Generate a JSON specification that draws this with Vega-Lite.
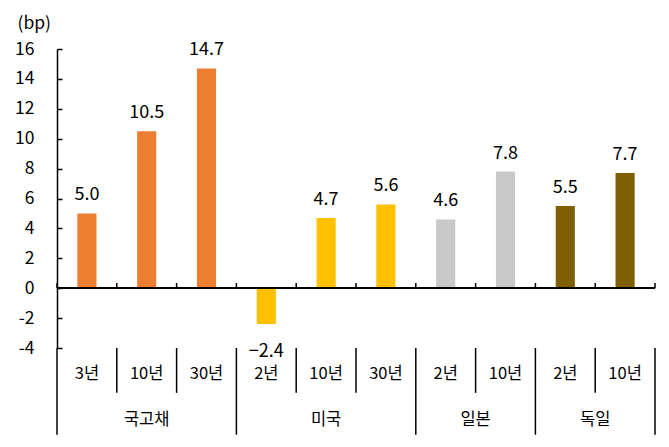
{
  "$schema": "https://vega.github.io/schema/vega-lite/v6.json",
  "width": 598,
  "height": 299,
  "autosize": {"type": "none"},
  "padding": {"left": 57, "top": 49, "right": 14, "bottom": 99},
  "data": {
    "values": [
      {"group": "국고채", "term": "3년", "key": "국고채 3년", "value": 5.0},
      {"group": "국고채", "term": "10년", "key": "국고채 10년", "value": 10.5},
      {"group": "국고채", "term": "30년", "key": "국고채 30년", "value": 14.7},
      {"group": "미국", "term": "2년", "key": "미국 2년", "value": -2.4},
      {"group": "미국", "term": "10년", "key": "미국 10년", "value": 4.7},
      {"group": "미국", "term": "30년", "key": "미국 30년", "value": 5.6},
      {"group": "일본", "term": "2년", "key": "일본 2년", "value": 4.6},
      {"group": "일본", "term": "10년", "key": "일본 10년", "value": 7.8},
      {"group": "독일", "term": "2년", "key": "독일 2년", "value": 5.5},
      {"group": "독일", "term": "10년", "key": "독일 10년", "value": 7.7}
    ]
  },
  "encoding": {
    "x": {
      "field": "key",
      "type": "nominal",
      "sort": null,
      "scale": {"paddingInner": 0, "paddingOuter": 0},
      "axis": {
        "title": null,
        "domain": false,
        "ticks": false,
        "labelAngle": 0,
        "labelPadding": 17,
        "labelFontSize": 16.5,
        "labelExpr": "split(datum.label, ' ')[1]"
      }
    }
  },
  "layer": [
    {
      "mark": {"type": "bar", "width": {"band": 0.32}},
      "encoding": {
        "y": {
          "field": "value",
          "type": "quantitative",
          "scale": {"domain": [-4, 16], "nice": false},
          "axis": {
            "title": "(bp)",
            "titleAngle": 0,
            "titleAlign": "left",
            "titleBaseline": "alphabetic",
            "titleFontSize": 17.5,
            "titleFontWeight": "normal",
            "titleX": -40,
            "titleY": -21
          }
        },
        "color": {
          "field": "group",
          "type": "nominal",
          "scale": {
            "domain": ["국고채", "미국", "일본", "독일"],
            "range": ["#ED7D31", "#FFC000", "#C9C9C9", "#7F6000"]
          },
          "legend": null
        }
      }
    },
    {
      "transform": [{"filter": "datum.value >= 0"}],
      "mark": {"type": "text", "fontSize": 18, "baseline": "alphabetic", "dy": -13},
      "encoding": {
        "y": {"field": "value", "type": "quantitative"},
        "text": {"field": "value", "type": "quantitative", "format": ".1f"}
      }
    },
    {
      "transform": [{"filter": "datum.value < 0"}],
      "mark": {"type": "text", "fontSize": 18, "baseline": "middle", "dy": 28},
      "encoding": {
        "y": {"field": "value", "type": "quantitative"},
        "text": {"field": "value", "type": "quantitative", "format": ".1f"}
      }
    },
    {
      "mark": {"type": "rule", "color": "black", "strokeWidth": 1.5},
      "encoding": {"x": null, "y": {"datum": 0}}
    },
    {
      "mark": {"type": "rule", "color": "black", "strokeWidth": 1.5},
      "encoding": {
        "x": {"field": "key", "type": "nominal", "sort": null, "bandPosition": 0},
        "y": {"datum": 0},
        "y2": {"datum": 0.35}
      }
    },
    {
      "transform": [{"filter": "datum.key == '독일 10년'"}],
      "mark": {"type": "rule", "color": "black", "strokeWidth": 1.5},
      "encoding": {
        "x": {"field": "key", "type": "nominal", "sort": null, "bandPosition": 1},
        "y": {"datum": 0},
        "y2": {"datum": 0.35}
      }
    },
    {
      "transform": [{"filter": "datum.term != '3년' && datum.term != '2년'"}],
      "mark": {"type": "rule", "color": "black", "strokeWidth": 1.5},
      "encoding": {
        "x": {"field": "key", "type": "nominal", "sort": null, "bandPosition": 0},
        "y": {"datum": -4},
        "y2": {"datum": -7}
      }
    },
    {
      "transform": [{"filter": "datum.term == '3년' || datum.term == '2년'"}],
      "mark": {"type": "rule", "color": "black", "strokeWidth": 1.5},
      "encoding": {
        "x": {"field": "key", "type": "nominal", "sort": null, "bandPosition": 0},
        "y": {"datum": -4},
        "y2": {"datum": -9.8}
      }
    },
    {
      "transform": [{"filter": "datum.key == '독일 10년'"}],
      "mark": {"type": "rule", "color": "black", "strokeWidth": 1.5},
      "encoding": {
        "x": {"field": "key", "type": "nominal", "sort": null, "bandPosition": 1},
        "y": {"datum": -4},
        "y2": {"datum": -9.8}
      }
    },
    {
      "transform": [{"filter": "(datum.group == '국고채' || datum.group == '미국') && datum.term == '10년'"}],
      "mark": {"type": "text", "fontSize": 16.5, "baseline": "middle"},
      "encoding": {
        "x": {"field": "key", "type": "nominal", "sort": null, "bandPosition": 0.5},
        "y": {"datum": -8.8},
        "text": {"field": "group"}
      }
    },
    {
      "transform": [{"filter": "(datum.group == '일본' || datum.group == '독일') && datum.term == '10년'"}],
      "mark": {"type": "text", "fontSize": 16.5, "baseline": "middle"},
      "encoding": {
        "x": {"field": "key", "type": "nominal", "sort": null, "bandPosition": 0},
        "y": {"datum": -8.8},
        "text": {"field": "group"}
      }
    }
  ],
  "config": {
    "font": "Noto Sans CJK KR",
    "view": {"stroke": null},
    "axis": {
      "labelColor": "black",
      "titleColor": "black",
      "domainColor": "black",
      "tickColor": "black",
      "domainWidth": 1.5,
      "tickWidth": 1.5,
      "labelFont": "Noto Sans CJK KR",
      "titleFont": "Noto Sans CJK KR"
    },
    "axisY": {
      "grid": false,
      "tickCount": 10,
      "tickSize": -5,
      "labelOverlap": false,
      "labelFlush": false,
      "labelPadding": 28,
      "labelFontSize": 17.5,
      "labelExpr": "replace(datum.label, '−', '-')"
    },
    "text": {"color": "black", "font": "Noto Sans CJK KR"}
  }
}
